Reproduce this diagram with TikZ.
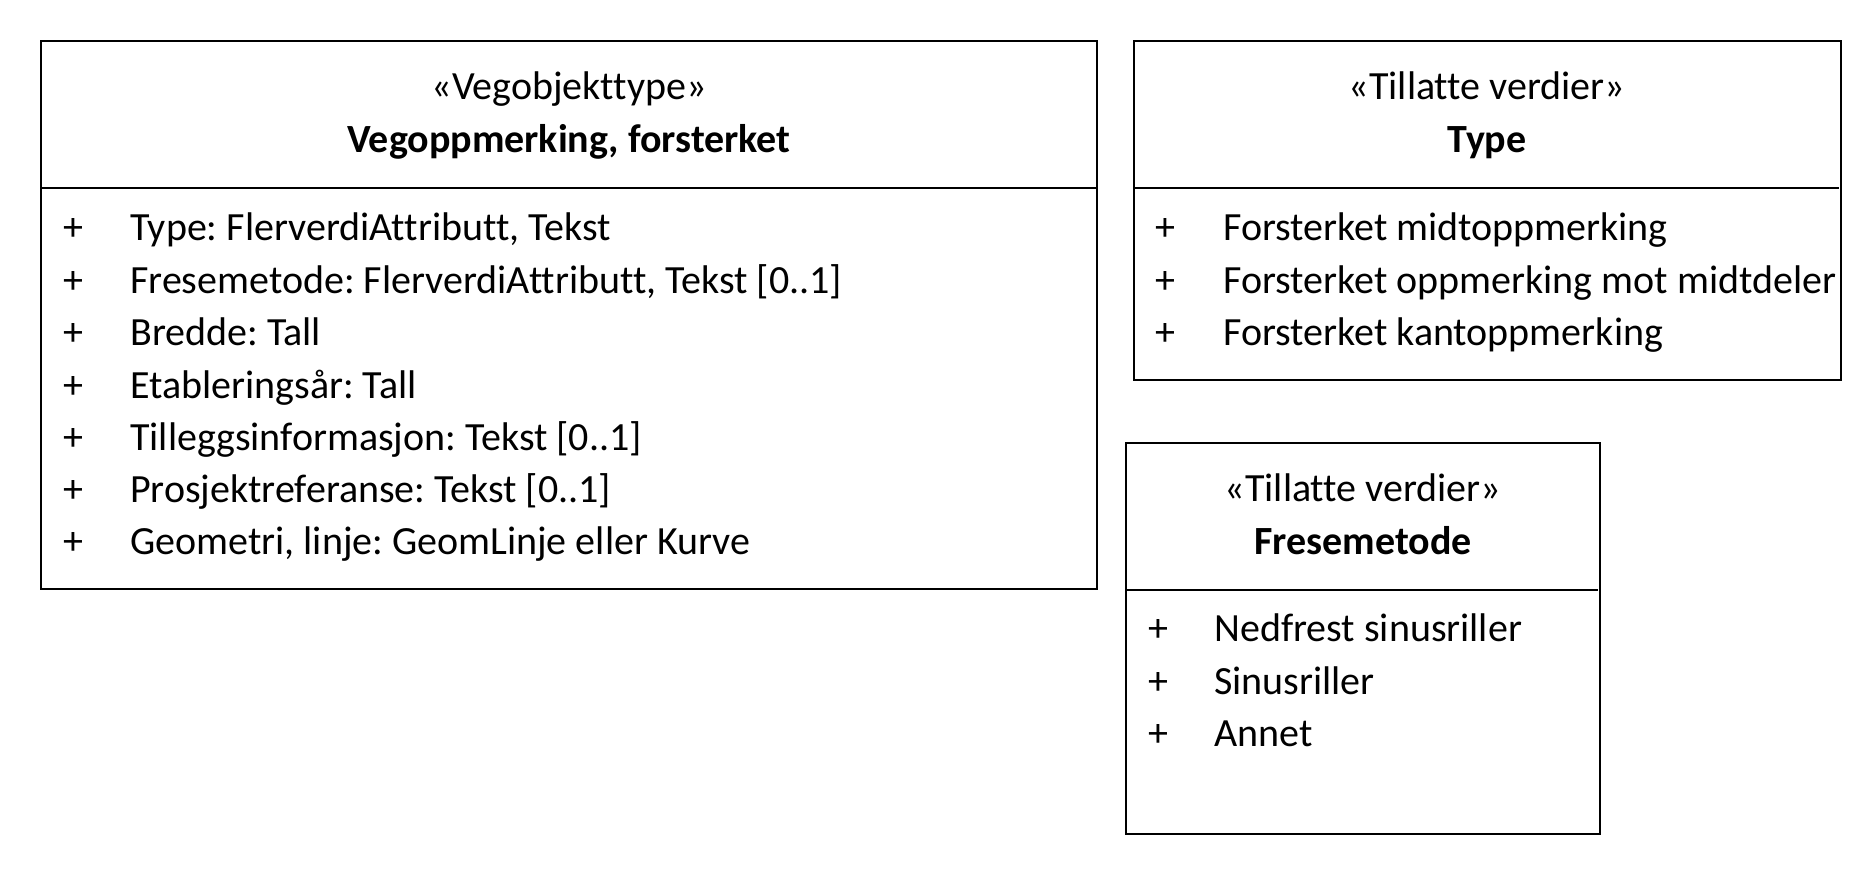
\documentclass[tikz,border=0pt]{standalone}
\usepackage{fontspec}
\setmainfont{Carlito}[Ligatures=NoCommon]
\usepackage{tikz}
\usetikzlibrary{positioning}
\frenchspacing

\begin{document}
\begin{tikzpicture}[x=0.75pt, y=-0.75pt,
  box/.style={draw, line width=1pt},
  title/.style={inner sep=0pt, text height=1.5ex, text depth=.25ex, font=\fontsize{30}{36}\selectfont},
  item/.style={anchor=west, inner sep=0pt, text height=1.5ex, text depth=.25ex, font=\fontsize{30}{36}\selectfont}]
  \useasboundingbox (0,0) rectangle (1872,872);
  % Vegobjekttype
  \draw[box] (41,41) rectangle (1097,589);
  \draw[box] (41,188) -- (1097,188);
  \node[title] (vegst) at (569,96) {«Vegobjekttype»};
  \node[title, font=\fontsize{30}{36}\selectfont\bfseries] (vegname) at (569,149) {Vegoppmerking, forsterket};
  \node[item] (vegp1) at (63,237) {+};
  \node[item] (vega1) at (130,237) {Type: FlerverdiAttributt, Tekst};
  \node[item] (vegp2) at (63,290) {+};
  \node[item] (vega2) at (130,290) {Fresemetode: FlerverdiAttributt, Tekst [0..1]};
  \node[item] (vegp3) at (63,342) {+};
  \node[item] (vega3) at (130,342) {Bredde: Tall};
  \node[item] (vegp4) at (63,395) {+};
  \node[item] (vega4) at (130,395) {Etableringsår: Tall};
  \node[item] (vegp5) at (63,447) {+};
  \node[item] (vega5) at (130,447) {Tilleggsinformasjon: Tekst [0..1]};
  \node[item] (vegp6) at (63,499) {+};
  \node[item] (vega6) at (130,499) {Prosjektreferanse: Tekst [0..1]};
  \node[item] (vegp7) at (63,551) {+};
  \node[item] (vega7) at (130,551) {Geometri, linje: GeomLinje eller Kurve};
  % Tillatte verdier: Type
  \draw[box] (1134,41) rectangle (1841,380);
  \draw[box] (1134,188) -- (1839,188);
  \node[title] (typest) at (1487,96) {«Tillatte verdier»};
  \node[title, font=\fontsize{30}{36}\selectfont\bfseries] (typename) at (1487,149) {Type};
  \node[item] (typep1) at (1155,237) {+};
  \node[item] (typev1) at (1223,237) {Forsterket midtoppmerking};
  \node[item] (typep2) at (1155,290) {+};
  \node[item] (typev2) at (1223,290) {Forsterket oppmerking mot midtdeler};
  \node[item] (typep3) at (1155,342) {+};
  \node[item] (typev3) at (1223,342) {Forsterket kantoppmerking};
  % Tillatte verdier: Fresemetode
  \draw[box] (1126,443) rectangle (1600,834);
  \draw[box] (1126,590) -- (1598,590);
  \node[title] (frest) at (1363,498) {«Tillatte verdier»};
  \node[title, font=\fontsize{30}{36}\selectfont\bfseries] (frename) at (1363,551) {Fresemetode};
  \node[item] (frep1) at (1148,638) {+};
  \node[item] (frev1) at (1214,638) {Nedfrest sinusriller};
  \node[item] (frep2) at (1148,691) {+};
  \node[item] (frev2) at (1214,691) {Sinusriller};
  \node[item] (frep3) at (1148,743) {+};
  \node[item] (frev3) at (1214,743) {Annet};
\end{tikzpicture}
\end{document}
